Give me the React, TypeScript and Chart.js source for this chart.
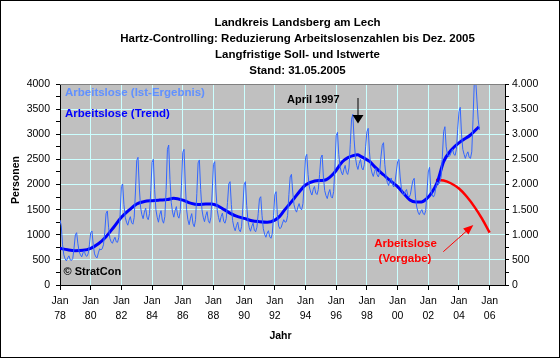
import React, { useEffect, useRef } from 'react';
import { Chart, registerables } from 'chart.js';

Chart.register(...registerables);

const W = 560;
const H = 358;
const FONT = '"Liberation Sans", Arial, Helvetica, sans-serif';

const titleLines = [
  'Landkreis Landsberg am Lech',
  'Hartz-Controlling: Reduzierung Arbeitslosenzahlen bis Dez. 2005',
  'Langfristige Soll- und Istwerte',
  'Stand: 31.05.2005',
];
const xAxisTitle = 'Jahr';
const yAxisTitle = 'Personen';
const xTickMonth = 'Jan';
const xTickYears = ['78', '80', '82', '84', '86', '88', '90', '92', '94', '96', '98', '00', '02', '04', '06'];
const istLabel = 'Arbeitslose (Ist-Ergebnis)';
const trendLabel = 'Arbeitslose (Trend)';
const vorgabeLabel = ['Arbeitslose', '(Vorgabe)'];
const peakNote = 'April 1997';
const copyright = '\u00A9 StratCon';

// Monthly actual values, Jan 1978 .. May 2005
const istStartYear = 1978;
const istValues = [
  1294, 1180, 800, 600, 520, 480, 540, 580, 500, 490, 530, 740, // 1978
  1000, 1041, 820, 660, 600, 560, 640, 680, 590, 570, 620, 800, // 1979
  1040, 1075, 800, 620, 560, 540, 640, 720, 700, 720, 800, 1050, // 1980
  1420, 1473, 1150, 930, 860, 830, 900, 950, 860, 850, 950, 1400, // 1981
  1960, 2010, 1600, 1350, 1250, 1190, 1290, 1360, 1240, 1210, 1340, 1850, // 1982
  2480, 2541, 1950, 1550, 1400, 1320, 1450, 1530, 1350, 1300, 1420, 1880, // 1983
  2440, 2501, 1900, 1500, 1350, 1250, 1400, 1480, 1290, 1230, 1360, 1900, // 1984
  2700, 2786, 2100, 1640, 1450, 1350, 1480, 1560, 1380, 1330, 1460, 1980, // 1985
  2640, 2700, 2000, 1500, 1300, 1200, 1330, 1420, 1220, 1160, 1300, 1820, // 1986
  2430, 2488, 1900, 1500, 1350, 1260, 1380, 1460, 1280, 1230, 1350, 1830, // 1987
  2400, 2454, 1850, 1480, 1340, 1250, 1360, 1430, 1270, 1230, 1320, 1640, // 1988
  2010, 2056, 1600, 1280, 1150, 1080, 1180, 1250, 1100, 1060, 1160, 1550, // 1989
  2000, 2056, 1580, 1270, 1140, 1070, 1170, 1230, 1090, 1060, 1150, 1420, // 1990
  1720, 1757, 1380, 1120, 1010, 950, 1030, 1080, 960, 930, 1020, 1380, // 1991
  1800, 1857, 1400, 1170, 1120, 1150, 1230, 1300, 1250, 1260, 1380, 1800, // 1992
  2150, 2202, 1850, 1600, 1500, 1450, 1550, 1620, 1520, 1500, 1620, 2050, // 1993
  2540, 2600, 2200, 1950, 1850, 1790, 1900, 1960, 1830, 1800, 1900, 2200, // 1994
  2530, 2587, 2150, 1880, 1780, 1720, 1830, 1900, 1760, 1730, 1860, 2350, // 1995
  2970, 3038, 2600, 2350, 2250, 2190, 2300, 2380, 2240, 2200, 2330, 2800, // 1996
  3300, 3397, 2900, 2550, 2380, 2300, 2420, 2500, 2330, 2290, 2400, 2750, // 1997
  3050, 3118, 2650, 2350, 2230, 2160, 2260, 2320, 2190, 2150, 2250, 2550, // 1998
  2780, 2832, 2400, 2150, 2040, 1980, 2080, 2130, 2000, 1950, 2050, 2250, // 1999
  2450, 2500, 2150, 1920, 1830, 1790, 1860, 1900, 1780, 1750, 1800, 1950, // 2000
  2080, 2123, 1750, 1550, 1450, 1400, 1460, 1500, 1420, 1400, 1480, 1850, // 2001
  2250, 2342, 1900, 1800, 1750, 1800, 1950, 2050, 2000, 2050, 2150, 2550, // 2002
  3050, 3150, 2750, 2600, 2550, 2580, 2650, 2700, 2600, 2580, 2700, 3100, // 2003
  3450, 3536, 3000, 2700, 2600, 2520, 2600, 2650, 2540, 2520, 2650, 3300, // 2004
  4050, 4100, 3700, 3300, 3085, // 2005
];

const trendYears = [
  1978.0, 1978.5, 1979.0, 1979.5, 1980.0, 1980.5, 1981.0, 1981.5, 1982.0, 1982.5,
  1983.0, 1983.5, 1984.0, 1984.5, 1985.0, 1985.4, 1986.0, 1986.5, 1987.0, 1987.5,
  1987.9, 1988.3, 1988.7, 1989.1, 1989.5, 1990.0, 1990.5, 1991.0, 1991.5, 1992.0,
  1992.3, 1992.6, 1993.0, 1993.3, 1993.6, 1994.0, 1994.6, 1995.0, 1995.3, 1995.85,
  1996.4, 1996.8, 1997.1, 1997.4, 1997.6, 1997.9, 1998.2, 1998.5, 1999.1, 1999.5,
  2000.0, 2000.4, 2000.8, 2001.2, 2001.55, 2001.9, 2002.2, 2002.6, 2003.0, 2003.5,
  2004.1, 2004.75, 2005.3,
];
const trendValues = [
  730, 700, 683, 690, 730, 820, 962, 1150, 1347, 1490,
  1612, 1660, 1678, 1690, 1700, 1725, 1690, 1630, 1600, 1610,
  1612, 1572, 1500, 1426, 1370, 1326, 1280, 1260, 1250, 1290,
  1360, 1480, 1625, 1740, 1857, 1990, 2070, 2080, 2090, 2222,
  2454, 2540, 2574, 2590, 2560, 2510, 2454, 2355, 2189, 2080,
  1957, 1820, 1692, 1652, 1652, 1720, 1825, 2056, 2454, 2687,
  2852, 2985, 3150,
];

const vorgabeYears = [2002.5, 2003.0, 2003.5, 2004.0, 2004.5, 2005.0, 2005.5, 2006.0];
const vorgabeValues = [2090, 2080, 2020, 1920, 1760, 1560, 1320, 1041];

const fmtDe = (v: number) =>
  v >= 1000 ? `${Math.floor(v / 1000)}.${String(v % 1000).padStart(3, '0')}` : String(v);

export default function App() {
  const ref = useRef<HTMLCanvasElement>(null);

  useEffect(() => {
    const canvas = ref.current;
    if (!canvas) return;

    const ist = istValues.map((v, i) => ({ x: istStartYear + i / 12, y: v }));
    const trend = trendYears.map((x, i) => ({ x, y: trendValues[i] }));
    const vorgabe = vorgabeYears.map((x, i) => ({ x, y: vorgabeValues[i] }));

    const decor = {
      id: 'decor',
      beforeDraw(c: any) {
        const { ctx, chartArea: a } = c;
        ctx.save();
        ctx.fillStyle = '#ffffff';
        ctx.fillRect(0, 0, W, H);
        ctx.fillStyle = '#c0c0c0';
        ctx.fillRect(a.left, a.top, a.right - a.left, a.bottom - a.top);
        ctx.restore();
      },
      afterDraw(c: any) {
        const { ctx, chartArea: a } = c;
        ctx.save();
        // plot area top border
        ctx.strokeStyle = '#808080';
        ctx.lineWidth = 1;
        ctx.beginPath();
        ctx.moveTo(a.left, a.top + 0.5);
        ctx.lineTo(a.right, a.top + 0.5);
        ctx.stroke();

        ctx.textAlign = 'center';
        ctx.textBaseline = 'middle';
        ctx.fillStyle = '#000';
        ctx.font = `bold 11.5px ${FONT}`;
        titleLines.forEach((t, i) => ctx.fillText(t, 297.5, 22.5 + i * 16));

        ctx.font = `bold 10.5px ${FONT}`;
        ctx.fillText(xAxisTitle, 280.5, 336.5);
        ctx.save();
        ctx.translate(16, 180);
        ctx.rotate(-Math.PI / 2);
        ctx.fillText(yAxisTitle, 0, 0);
        ctx.restore();

        // legend texts
        ctx.textAlign = 'left';
        ctx.font = `bold 11.5px ${FONT}`;
        ctx.fillStyle = '#6090ff';
        ctx.fillText(istLabel, 65, 93);
        ctx.fillStyle = '#0000ff';
        ctx.fillText(trendLabel, 65, 113.5);

        ctx.fillStyle = '#000';
        ctx.font = `bold 11px ${FONT}`;
        ctx.fillText(copyright, 63.5, 272);
        ctx.fillText(peakNote, 287, 100);

        // black arrow
        ctx.strokeStyle = '#000';
        ctx.lineWidth = 1;
        ctx.beginPath();
        ctx.moveTo(358, 98);
        ctx.lineTo(358, 116);
        ctx.stroke();
        ctx.beginPath();
        ctx.moveTo(352.5, 115);
        ctx.lineTo(363.5, 115);
        ctx.lineTo(358, 123.5);
        ctx.closePath();
        ctx.fill();

        // red annotation
        ctx.fillStyle = '#ff0000';
        ctx.textAlign = 'center';
        ctx.font = `bold 11.5px ${FONT}`;
        ctx.fillText(vorgabeLabel[0], 405.5, 243.5);
        ctx.fillText(vorgabeLabel[1], 405, 258.5);
        ctx.strokeStyle = '#ff0000';
        ctx.beginPath();
        ctx.moveTo(443.3, 251.7);
        ctx.lineTo(467, 230.6);
        ctx.stroke();
        ctx.beginPath();
        ctx.moveTo(473.3, 225);
        ctx.lineTo(468.5, 234.6);
        ctx.lineTo(463.1, 228.6);
        ctx.closePath();
        ctx.fill();

        // outer border
        ctx.strokeStyle = '#000';
        ctx.lineWidth = 1;
        ctx.strokeRect(0.5, 0.5, W - 1, H - 1);
        ctx.restore();
      },
    };

    const tickFont = { family: FONT, size: 10.5, lineHeight: 1.43 };

    const chart = new Chart(canvas, {
      type: 'line',
      data: {
        datasets: [
          {
            label: istLabel,
            data: ist,
            borderColor: '#3366ff',
            borderWidth: 1,
            pointRadius: 0,
            tension: 0,
          },
          {
            label: trendLabel,
            data: trend,
            borderColor: '#0000ff',
            borderWidth: 3,
            pointRadius: 0,
            cubicInterpolationMode: 'monotone',
          },
          {
            label: vorgabeLabel.join(' '),
            data: vorgabe,
            borderColor: '#ff0000',
            borderWidth: 2.5,
            pointRadius: 0,
            tension: 0.4,
          },
        ],
      },
      options: {
        responsive: false,
        animation: false,
        devicePixelRatio: 1,
        layout: { padding: { top: 84, left: 0, right: 0, bottom: 0 } },
        plugins: {
          legend: { display: false },
          title: { display: false },
          tooltip: { enabled: false },
        },
        scales: {
          x: {
            type: 'linear',
            min: 1978,
            max: 2007,
            afterFit: (s: any) => {
              s.height = 73;
            },
            ticks: {
              stepSize: 2,
              includeBounds: false,
              autoSkip: false,
              maxRotation: 0,
              padding: 4,
              color: '#000',
              font: tickFont,
              callback: (_v: any, i: number) => [xTickMonth, xTickYears[i]],
            },
            grid: {
              color: (ctx: any) => (ctx.tick && ctx.tick.value === 1978 ? 'rgba(0,0,0,0)' : '#ccffff'),
              tickColor: '#000',
              tickLength: 5,
            },
            border: { color: '#000', width: 1 },
          },
          y: {
            position: 'left',
            min: 0,
            max: 4000,
            afterFit: (s: any) => {
              s.width = 60;
            },
            ticks: {
              stepSize: 250,
              autoSkip: false,
              padding: 6,
              color: '#000',
              font: tickFont,
              callback: (v: any) => (Number(v) % 500 === 0 ? String(v) : ''),
            },
            grid: {
              color: (ctx: any) =>
                ctx.tick && ctx.tick.value % 500 === 0 && ctx.tick.value > 0 ? '#ccffff' : 'rgba(0,0,0,0)',
              tickColor: '#000',
              tickLength: 4,
            },
            border: { color: '#000', width: 1 },
          },
          y1: {
            position: 'right',
            min: 0,
            max: 4000,
            afterFit: (s: any) => {
              s.width = 55;
            },
            ticks: {
              stepSize: 250,
              autoSkip: false,
              padding: 3,
              color: '#000',
              font: tickFont,
              callback: (v: any) => (Number(v) % 500 === 0 ? fmtDe(Number(v)) : ''),
            },
            grid: {
              drawOnChartArea: false,
              tickColor: '#000',
              tickLength: 4,
            },
            border: { color: '#000', width: 1 },
          },
        },
      },
      plugins: [decor],
    } as any);

    return () => chart.destroy();
  }, []);

  return (
    <div style={{ position: 'fixed', left: 0, top: 0, width: W, height: H }}>
      <canvas ref={ref} width={W} height={H} style={{ display: 'block' }} />
    </div>
  );
}
